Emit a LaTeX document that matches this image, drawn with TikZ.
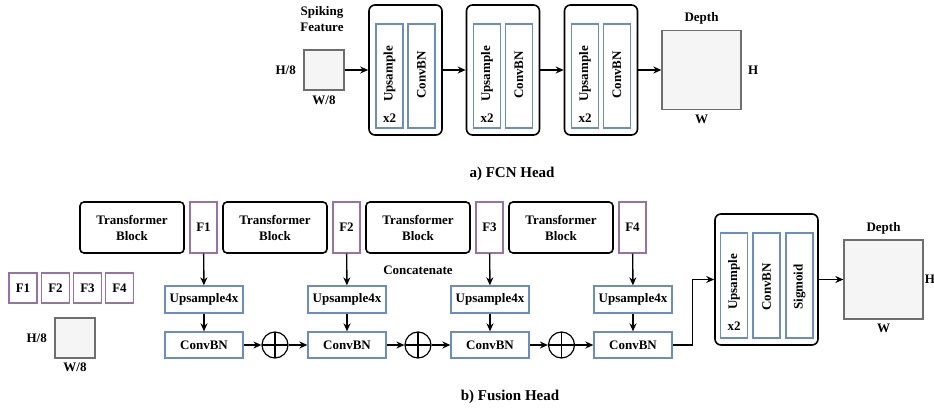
\documentclass[tikz,border=0pt]{standalone}
\usepackage{fontspec}
\setmainfont{Liberation Serif}
\usepackage{tikz}
\usetikzlibrary{positioning,arrows.meta}
\definecolor{opblue}{RGB}{108,142,191}
\definecolor{featpurple}{RGB}{150,115,166}
\definecolor{mapgray}{RGB}{110,110,110}
\definecolor{mapfill}{RGB}{245,245,245}

\begin{document}
\begin{tikzpicture}[
    x=1pt, y=-1pt,
    font=\fontsize{13}{16}\selectfont\bfseries,
    head/.style    = {draw=black, line width=1.6pt, rounded corners=6pt,
      inner sep=0pt},
    op/.style      = {draw=opblue, line width=1.3pt, inner sep=0pt},
    feat/.style    = {draw=featpurple, line width=1.3pt, inner sep=0pt},
    fmap/.style    = {draw=mapgray, fill=mapfill, line width=1.3pt,
      inner sep=0pt},
    plus/.style    = {draw, circle, line width=1.2pt, minimum size=26pt,
      inner sep=0pt,
      path picture={
        \draw[line width=1.2pt] (path picture bounding box.north) --
          (path picture bounding box.south)
          (path picture bounding box.west) --
          (path picture bounding box.east);}},
    flow/.style    = {-{Stealth[length=8pt,width=7pt]}, line width=1.4pt},
    caption/.style = {font=\fontsize{15}{18}\selectfont\bfseries}
  ]
  \useasboundingbox (0,0) rectangle (934,412);

  % a) FCN Head
  \node[align=center] (spike) at (322,19) {Spiking\\Feature};
  \node[fmap, minimum size=40pt] (in) at (324,70) {};
  \node[left=4pt of in] {H/8};
  \node[below=2pt of in] {W/8};
  \foreach \i/\x in {1/405.5, 2/503, 3/601} {
    \node[head, minimum width=73pt, minimum height=130pt] (hd\i) at (\x,70) {};
    \node[op, minimum width=27pt, minimum height=104pt] (up\i) at (\x-16,76) {};
    \node[op, minimum width=27pt, minimum height=104pt] (cb\i) at (\x+16,76) {};
    \node[rotate=90] at (\x-16,74) {Upsample};
    \node at (\x-16,118) {x2};
    \node[rotate=90] at (\x+16,75) {ConvBN};
  }
  \node[fmap, minimum size=79pt] (out) at (701.5,70) {};
  \node[above=2pt of out] {Depth};
  \node[right=3pt of out] {H};
  \node[below=1pt of out] {W};
  \draw[flow] (in) -- (hd1);
  \draw[flow] (hd1) -- (hd2);
  \draw[flow] (hd2) -- (hd3);
  \draw[flow] (hd3) -- (out);
  \node[caption] (capa) at (512,174) {a) FCN Head};

  % b) Fusion Head
  \foreach \i/\x in {1/23, 2/55.5, 3/87.5, 4/119.5}
    \node[feat, minimum width=28pt, minimum height=30pt] (sf\i) at (\x,288) {F\i};
  \node[fmap, minimum size=40pt] (sin) at (75,338) {};
  \node[left=4pt of sin] {H/8};
  \node[below=1pt of sin] {W/8};

  \foreach \i/\x in {1/0, 2/143, 3/286, 4/429} {
    \node[head, rounded corners=4pt, minimum width=104pt, minimum height=51pt,
      align=center] (tb\i) at (132+\x,227.5) {Transformer\\Block};
    \node[feat, minimum width=27pt, minimum height=51pt] (f\i) at (203.5+\x,227.5) {F\i};
    \node[op, minimum width=78pt, minimum height=27pt] (ups\i) at (204+\x,299.5) {Upsample4x};
    \node[op, minimum width=78pt, minimum height=26pt] (cbn\i) at (204+\x,345) {ConvBN};
    \draw[flow] (f\i) -- (ups\i);
    \draw[flow] (ups\i) -- (cbn\i);
  }
  \node (concat) at (418,270) {Concatenate};
  \foreach \i/\x [evaluate=\i as \j using int(\i+1)] in {1/275, 2/418, 3/561.5} {
    \node[plus] (add\i) at (\x,345) {};
    \draw[flow] (cbn\i) -- (add\i);
    \draw[flow] (add\i) -- (cbn\j);
  }

  \node[head, minimum width=103pt, minimum height=131pt] (hd4) at (766.5,279.5) {};
  \foreach \n/\x in {ups/734, cbn/766.5, sig/799.5}
    \node[op, minimum width=27pt, minimum height=105pt] (\n hd) at (\x,285.5) {};
  \node[rotate=90] at (734,282) {Upsample};
  \node at (734,326) {x2};
  \node[rotate=90] at (766.5,287) {ConvBN};
  \node[rotate=90] at (799.5,287) {Sigmoid};
  \node[fmap, minimum size=79pt] (dout) at (883.5,279.5) {};
  \node[above=2pt of dout] {Depth};
  \node[right=0pt of dout, inner sep=1pt] {H};
  \node[below=1pt of dout] {W};
  \draw[flow] (cbn4.east) -- ++(20,0) |- (hd4.west);
  \draw[flow] (hd4) -- (dout);
  \node[caption] (capb) at (510,397) {b) Fusion Head};
\end{tikzpicture}
\end{document}
